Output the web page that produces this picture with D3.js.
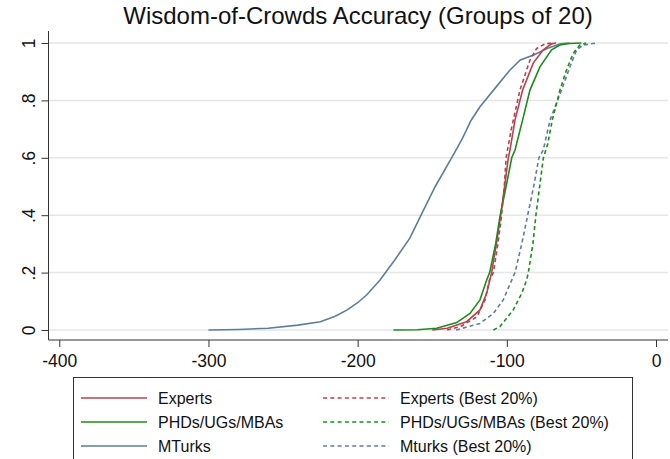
<!DOCTYPE html>
<html><head><meta charset="utf-8">
<script src="https://cdn.jsdelivr.net/npm/d3@7"></script>
<style>body{margin:0;background:#fff;} svg{display:block;font-family:"Liberation Sans",Arial,sans-serif;}</style>
</head><body>
<svg id="c" width="670" height="459"></svg>
<script>
const title = "Wisdom-of-Crowds Accuracy (Groups of 20)";
const xTicks = [-400, -300, -200, -100, 0];
const xTickLabels = ["-400", "-300", "-200", "-100", "0"];
const yTicks = [0, 0.2, 0.4, 0.6, 0.8, 1];
const yTickLabels = ["0", ".2", ".4", ".6", ".8", "1"];

const expertsX = [-150, -140, -127, -118, -113.5, -110.2, -107, -104.1, -101.5, -99, -97.9, -94.5, -89.4, -82.3, -75.6, -70, -67];
const expertsY = [0, 0.006, 0.029, 0.07, 0.128, 0.2, 0.3, 0.4, 0.5, 0.6, 0.627, 0.732, 0.836, 0.93, 0.976, 0.997, 1];

const phdX = [-176, -160, -147, -133.6, -124.7, -118, -113.5, -111.5, -107.5, -104.6, -100.5, -96.7, -94.5, -89.4, -84.5, -77.8, -70, -64.4, -58, -50];
const phdY = [0, 0.001, 0.006, 0.026, 0.058, 0.105, 0.174, 0.2, 0.3, 0.395, 0.5, 0.6, 0.627, 0.732, 0.836, 0.917, 0.976, 0.993, 0.998, 1];

const mturkX = [-300, -280, -260, -240, -225, -215, -207, -200, -194, -185, -175, -165, -158, -148, -137, -130, -124, -118, -107, -98, -91, -82, -73, -64, -58];
const mturkY = [0, 0.002, 0.006, 0.017, 0.029, 0.048, 0.07, 0.095, 0.122, 0.174, 0.245, 0.32, 0.395, 0.5, 0.6, 0.665, 0.73, 0.778, 0.848, 0.905, 0.941, 0.958, 0.981, 0.997, 1];

const expertsBestX = [-140, -131, -120, -114.6, -111.7, -109, -106, -103.5, -101.7, -100.5, -97, -91.2, -84.5, -80, -74.4, -68.8];
const expertsBestY = [0, 0.012, 0.046, 0.105, 0.174, 0.2, 0.3, 0.4, 0.5, 0.6, 0.7, 0.836, 0.94, 0.981, 0.997, 1];

const phdBestX = [-109, -104.6, -95.7, -90, -86.7, -85.6, -82.5, -80.5, -78, -75.5, -72.5, -69.5, -64.4, -60, -55.5, -51, -47];
const phdBestY = [0, 0.012, 0.07, 0.128, 0.174, 0.2, 0.3, 0.4, 0.5, 0.6, 0.65, 0.732, 0.836, 0.906, 0.964, 0.993, 1];

const mturkBestX = [-134, -118, -109, -102.4, -96.7, -94.5, -90, -86, -82, -78.5, -75.6, -71, -63.3, -57.7, -53.2, -48.8, -40];
const mturkBestY = [0, 0.023, 0.058, 0.105, 0.174, 0.2, 0.3, 0.4, 0.5, 0.6, 0.627, 0.732, 0.836, 0.917, 0.976, 0.993, 1];

const seriesNames = ["Experts", "PHDs/UGs/MBAs", "MTurks", "Experts (Best 20%)", "PHDs/UGs/MBAs (Best 20%)", "Mturks (Best 20%)"];
const seriesColors = ["#b2434f", "#1f8a1f", "#5d7e9b", "#b2434f", "#1f8a1f", "#5d7e9b"];
const seriesDashed = [false, false, false, true, true, true];
const seriesXs = [expertsX, phdX, mturkX, expertsBestX, phdBestX, mturkBestX];
const seriesYs = [expertsY, phdY, mturkY, expertsBestY, phdBestY, mturkBestY];

const svg = d3.select("#c");
const x = d3.scaleLinear().domain([-400, 0]).range([59.3, 656]);
const y = d3.scaleLinear().domain([0, 1]).range([330, 43]);
const plotLeft = 48.5, plotRight = 668, plotTop = 31, plotBottom = 340;

// title
svg.append("text").attr("x", 358).attr("y", 24).attr("text-anchor", "middle")
  .attr("font-size", 24).attr("fill", "#111").text(title);

// gridlines
svg.append("g").selectAll("line").data(yTicks).join("line")
  .attr("x1", plotLeft).attr("x2", plotRight).attr("y1", d => y(d)).attr("y2", d => y(d))
  .attr("stroke", "#e6e6e6").attr("stroke-width", 1.5);

// axes
const yAxis = d3.axisLeft(y).tickValues(yTicks).tickSize(7).tickSizeOuter(0)
  .tickFormat((d, i) => yTickLabels[i]);
const gy = svg.append("g").attr("transform", `translate(${plotLeft},0)`).call(yAxis);
gy.select(".domain").attr("d", `M0,${plotTop}V${plotBottom}`).attr("stroke", "#333");
gy.selectAll(".tick line").attr("stroke", "#333");
gy.selectAll(".tick text").attr("font-size", 17.5).attr("fill", "#111")
  .attr("font-family", "Liberation Sans, Arial, sans-serif")
  .attr("text-anchor", "middle").attr("x", null)
  .attr("transform", "translate(-14,0) rotate(-90)").attr("y", 0).attr("dy", "0");

const xAxis = d3.axisBottom(x).tickValues(xTicks).tickSize(7).tickSizeOuter(0)
  .tickFormat((d, i) => xTickLabels[i]);
const gx = svg.append("g").attr("transform", `translate(0,${plotBottom})`).call(xAxis);
gx.select(".domain").attr("d", `M${plotLeft},0H${plotRight}`).attr("stroke", "#333");
gx.selectAll(".tick line").attr("stroke", "#333");
gx.selectAll(".tick text").attr("font-size", 17.5).attr("fill", "#111")
  .attr("font-family", "Liberation Sans, Arial, sans-serif")
  .attr("y", 27).attr("dy", "0");

// lines
const line = d3.line().x(d => x(d[0])).y(d => y(d[1]));
const order = [2, 0, 1, 3, 5, 4];
order.forEach(i => {
  const pts = seriesXs[i].map((v, j) => [v, seriesYs[i][j]]);
  svg.append("path").datum(pts).attr("d", line).attr("fill", "none")
    .attr("stroke", seriesColors[i]).attr("stroke-width", 1.6)
    .attr("stroke-dasharray", seriesDashed[i] ? "4,3" : null);
});

// legend
svg.append("rect").attr("x", 73.5).attr("y", 377.5).attr("width", 559).attr("height", 95)
  .attr("fill", "#fff").attr("stroke", "#333").attr("stroke-width", 1);
const rowY = [398, 422, 446];
seriesNames.forEach((name, i) => {
  const col = seriesDashed[i] ? 1 : 0;
  const row = i % 3;
  const lx = col ? 323 : 81;
  const g = svg.append("g");
  g.append("line").attr("x1", lx).attr("x2", lx + 66).attr("y1", rowY[row]).attr("y2", rowY[row])
    .attr("stroke", seriesColors[i]).attr("stroke-width", 1.6)
    .attr("stroke-dasharray", seriesDashed[i] ? "4,3.3" : null);
  g.append("text").attr("x", lx + 77).attr("y", rowY[row] + 6)
    .attr("font-size", 16).attr("fill", "#111").text(name);
});
</script>
</body></html>
